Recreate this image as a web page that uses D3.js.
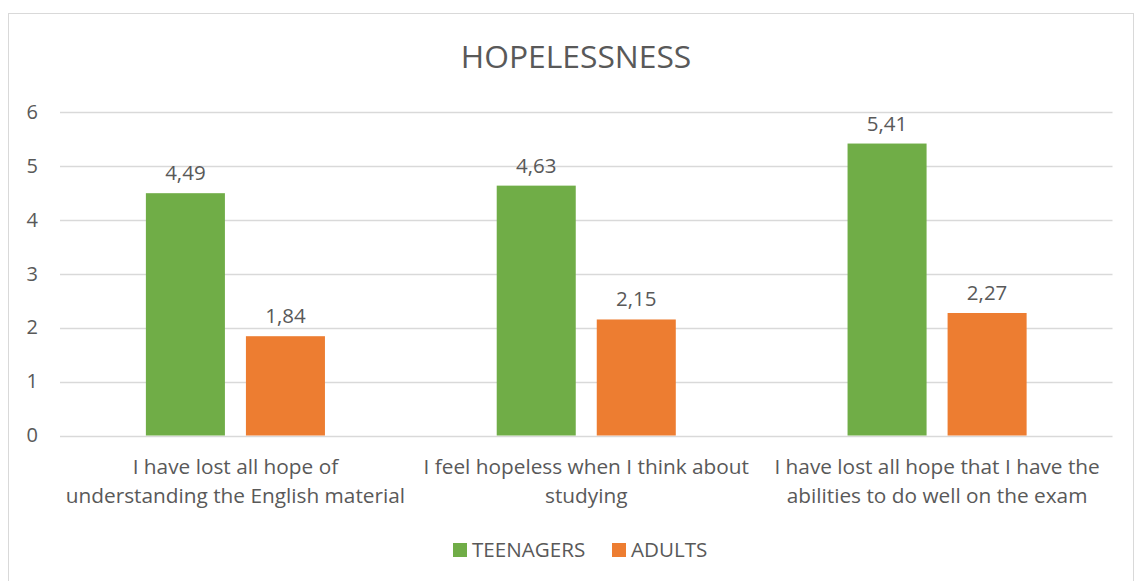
<!DOCTYPE html>
<html><head><meta charset="utf-8">
<script src="https://cdn.jsdelivr.net/npm/d3@7"></script>
<style>body{margin:0;background:#fff}svg text{font-family:"Open Sans",sans-serif;fill:#595959}</style>
</head><body><svg id="c" width="1135" height="581"></svg>
<script>
const categories = [
  ["I have lost all hope of", "understanding the English material"],
  ["I feel hopeless when I think about", "studying"],
  ["I have lost all hope that I have the", "abilities to do well on the exam"]
];
const seriesNames = ["TEENAGERS", "ADULTS"];
const teenagers = [4.49, 4.63, 5.41];
const adults = [1.84, 2.15, 2.27];
const yTicks = [0, 1, 2, 3, 4, 5, 6];
const colors = ["#70AD47", "#ED7D31"];
const title = "HOPELESSNESS";

(function(){
const svg = d3.select("#c");
svg.append("rect").attr("x", 8.5).attr("y", 13.5).attr("width", 1125).attr("height", 600)
  .attr("fill", "#fff").attr("stroke", "#D9D9D9").attr("stroke-width", 1);

const pLeft = 60, pRight = 1112.5, pTop = 111.7, pBottom = 435.5;
const y = d3.scaleLinear().domain([0, 6]).range([pBottom, pTop]);
const idx = d3.range(categories.length);
const x0 = d3.scaleBand().domain(idx).range([pLeft, pRight]).padding(0);
const x1 = d3.scaleBand().domain([0, 1]).range([0, x0.bandwidth()]).paddingInner(0.21).paddingOuter(0.8585);

svg.append("g").selectAll("line").data(yTicks).join("line")
  .attr("x1", pLeft).attr("x2", pRight)
  .attr("y1", d => Math.round(y(d)) + 0.5).attr("y2", d => Math.round(y(d)) + 0.5)
  .attr("stroke", "#D9D9D9").attr("stroke-width", 1.5);

const yAxis = d3.axisLeft(y).tickValues(yTicks).tickSize(0).tickPadding(0).tickFormat(d3.format("d"));
const yg = svg.append("g").attr("transform", `translate(38,0)`).call(yAxis);
yg.select(".domain").remove();
yg.selectAll("text").style("font-size", "20px").attr("fill", "#595959").attr("font-family", "Open Sans");

const series = [teenagers, adults];
series.forEach((vals, s) => {
  svg.append("g").selectAll("rect").data(vals).join("rect")
    .attr("x", (d, i) => x0(i) + x1(s))
    .attr("width", x1.bandwidth())
    .attr("y", d => y(d))
    .attr("height", d => pBottom - y(d))
    .attr("fill", colors[s]);
  svg.append("g").selectAll("text").data(vals).join("text")
    .attr("x", (d, i) => x0(i) + x1(s) + x1.bandwidth() / 2)
    .attr("y", d => y(d) - 13)
    .attr("text-anchor", "middle")
    .style("font-size", "20.5px")
    .text(d => d.toFixed(2).replace(".", ","));
});

const cg = svg.append("g").selectAll("text").data(categories).join("text")
  .attr("text-anchor", "middle")
  .style("font-size", "20.8px");
cg.selectAll("tspan").data((d, i) => d.map(t => ({t, i}))).join("tspan")
  .attr("x", d => x0(d.i) + x0.bandwidth() / 2)
  .attr("y", (d, j) => 474 + j * 29)
  .text(d => d.t);

svg.append("text").attr("x", 576).attr("y", 68).attr("text-anchor", "middle")
  .style("font-size", "31.8px").text(title);

const legendX = [453, 612];
seriesNames.forEach((n, s) => {
  svg.append("rect").attr("x", legendX[s]).attr("y", 543).attr("width", 14).attr("height", 14).attr("fill", colors[s]);
  svg.append("text").attr("x", legendX[s] + 19).attr("y", 557).style("font-size", "20.6px").text(n);
});
})();
</script></body></html>
